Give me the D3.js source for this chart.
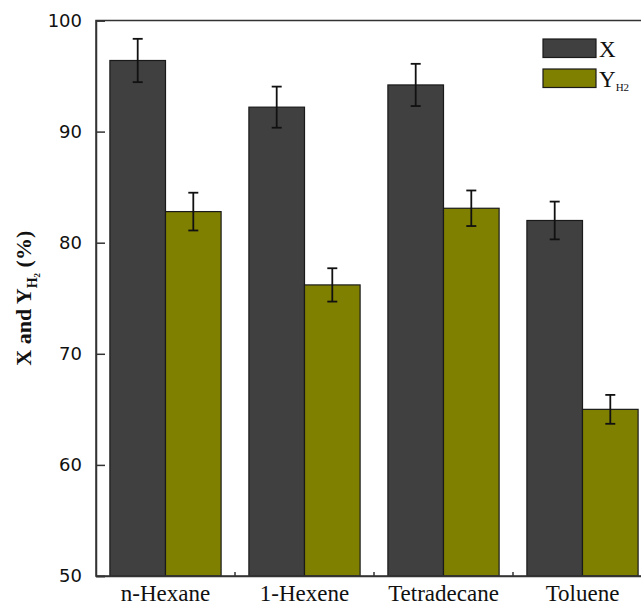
<!DOCTYPE html>
<html>
<head>
<meta charset="utf-8">
<script src="https://cdn.jsdelivr.net/npm/d3@7"></script>
<style>
  html, body { margin: 0; padding: 0; background: #fff; }
  svg { display: block; }
</style>
</head>
<body>
<svg id="chart" width="641" height="606"></svg>
<script>
// Feed conversion (X) and hydrogen yield (Y_H2) for four hydrocarbons
const categories = ["n-Hexane", "1-Hexene", "Tetradecane", "Toluene"];
const seriesKeys = ["X", "Y"];
const valuesX = [96.4, 92.2, 94.2, 82.0];
const errorsX = [1.95, 1.85, 1.9, 1.7];
const valuesY = [82.8, 76.2, 83.1, 65.0];
const errorsY = [1.7, 1.5, 1.6, 1.3];
const yTicks = [50, 60, 70, 80, 90, 100];

const colors = { X: "#404040", Y: "#808000" };

const svg = d3.select("#chart");
const plotLeft = 96, plotRight = 652, plotTop = 20.5, plotBottom = 576;

const x0 = d3.scaleBand().domain(categories).range([plotLeft, plotRight])
  .paddingInner(0.2).paddingOuter(0.1);
const x1 = d3.scaleBand().domain(seriesKeys).range([0, x0.bandwidth()]);
const y = d3.scaleLinear().domain([50, 100]).range([plotBottom, plotTop]);

const rows = categories.map((c, i) => ({
  cat: c,
  items: [
    { key: "X", v: valuesX[i], e: errorsX[i] },
    { key: "Y", v: valuesY[i], e: errorsY[i] }
  ]
}));

// Bars
const groups = svg.append("g").selectAll("g").data(rows).join("g")
  .attr("transform", d => `translate(${x0(d.cat)},0)`);

groups.selectAll("rect").data(d => d.items).join("rect")
  .attr("x", d => x1(d.key))
  .attr("y", d => y(d.v))
  .attr("width", x1.bandwidth())
  .attr("height", d => y(50) - y(d.v))
  .attr("fill", d => colors[d.key])
  .attr("stroke", "#1a1a1a")
  .attr("stroke-width", 1.2);

// Error bars
const eb = groups.selectAll("g.err").data(d => d.items).join("g").attr("class", "err")
  .attr("stroke", "#111").attr("stroke-width", 1.8);
eb.append("line")
  .attr("x1", d => x1(d.key) + x1.bandwidth() / 2)
  .attr("x2", d => x1(d.key) + x1.bandwidth() / 2)
  .attr("y1", d => y(d.v + d.e)).attr("y2", d => y(d.v - d.e));
[1, -1].forEach(s => {
  eb.append("line")
    .attr("x1", d => x1(d.key) + x1.bandwidth() / 2 - 5)
    .attr("x2", d => x1(d.key) + x1.bandwidth() / 2 + 5)
    .attr("y1", d => y(d.v + s * d.e)).attr("y2", d => y(d.v + s * d.e));
});

// Frame
svg.append("rect")
  .attr("x", plotLeft).attr("y", plotTop)
  .attr("width", plotRight - plotLeft).attr("height", plotBottom - plotTop)
  .attr("fill", "none").attr("stroke", "#333").attr("stroke-width", 1.5);

// Y axis with inward ticks
const yAxis = svg.append("g").attr("transform", `translate(${plotLeft},0)`)
  .call(d3.axisLeft(y).tickValues(yTicks).tickSize(-9).tickPadding(14).tickFormat(d3.format("d")));
yAxis.select(".domain").attr("stroke", "#333").attr("stroke-width", 1.5);
yAxis.selectAll(".tick line").attr("stroke", "#333").attr("stroke-width", 1.5);
yAxis.selectAll(".tick text")
  .attr("font-family", "'DejaVu Sans', Verdana, sans-serif")
  .attr("font-size", 18).attr("fill", "#111");

// X axis: category labels, small ticks between groups
const xAxis = svg.append("g").attr("transform", `translate(0,${plotBottom})`)
  .call(d3.axisBottom(x0).tickSize(0));
xAxis.select(".domain").attr("stroke", "#333").attr("stroke-width", 1.5);
xAxis.selectAll(".tick text")
  .attr("y", 25).attr("dy", null)
  .attr("font-family", "'Liberation Serif', 'Times New Roman', serif")
  .attr("font-size", 23).attr("fill", "#111");
svg.append("g").selectAll("line").data(categories.slice(1)).join("line")
  .attr("x1", d => x0(d) - x0.step() * x0.paddingInner() / 2)
  .attr("x2", d => x0(d) - x0.step() * x0.paddingInner() / 2)
  .attr("y1", plotBottom).attr("y2", plotBottom - 4)
  .attr("stroke", "#333").attr("stroke-width", 1.5);

// Y axis title
const yt = svg.append("text")
  .attr("transform", `translate(31,${(plotTop + plotBottom) / 2}) rotate(-90)`)
  .attr("text-anchor", "middle")
  .attr("font-family", "'Liberation Serif', 'Times New Roman', serif")
  .attr("font-size", 22).attr("font-weight", "bold").attr("fill", "#111");
yt.append("tspan").text("X and Y");
yt.append("tspan").attr("font-size", 14).attr("dy", 6).text("H");
yt.append("tspan").attr("font-size", 9).attr("dy", 3).text("2");
yt.append("tspan").attr("dy", -9).text(" (%)");

// Legend
const legend = svg.append("g");
const legendItems = [
  { key: "X", y0: 39 },
  { key: "Y", y0: 69 }
];
legend.selectAll("rect").data(legendItems).join("rect")
  .attr("x", 543).attr("y", d => d.y0).attr("width", 53).attr("height", 18.5)
  .attr("fill", d => colors[d.key]).attr("stroke", "#1a1a1a").attr("stroke-width", 1.2);
legend.append("text").attr("x", 599).attr("y", 57)
  .attr("font-family", "'Liberation Serif', 'Times New Roman', serif")
  .attr("font-size", 23).attr("fill", "#111").text("X");
const ly = legend.append("text").attr("x", 599).attr("y", 87)
  .attr("font-family", "'Liberation Serif', 'Times New Roman', serif")
  .attr("font-size", 23).attr("fill", "#111");
ly.append("tspan").text("Y");
ly.append("tspan").attr("font-size", 11).attr("dy", 4).text("H2");
</script>
</body>
</html>
